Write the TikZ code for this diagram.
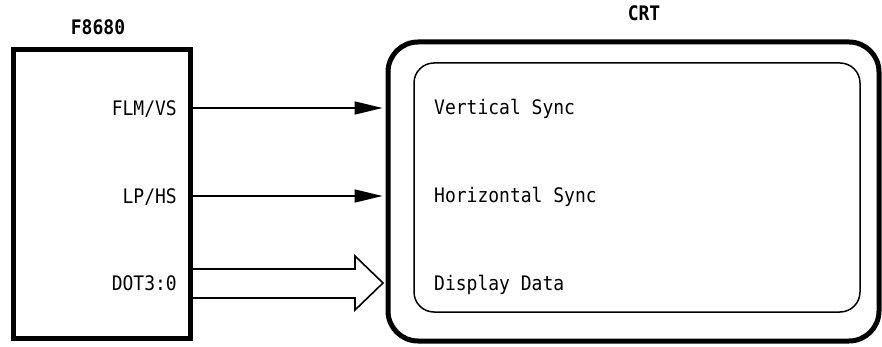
\documentclass[tikz,border=0pt]{standalone}
\usepackage{fontspec}
\setmonofont[FakeStretch=0.9]{DejaVu Sans Mono}
\usepackage{tikz}
\usetikzlibrary{arrows.meta}
\tikzstyle{box_chip} = [draw, line width=5pt, inner sep=0pt, minimum width=177pt, minimum height=288pt]
\tikzstyle{box_crt} = [draw, line width=5pt, rounded corners=30pt, inner sep=0pt, minimum width=491pt, minimum height=299pt]
\tikzstyle{box_screen} = [draw, line width=1.5pt, rounded corners=20pt, inner sep=0pt, minimum width=446pt, minimum height=249pt]
\tikzstyle{label_title} = [inner sep=0pt, font=\ttfamily\bfseries\fontsize{20}{22}\selectfont]
\tikzstyle{label_pin} = [anchor=base east, inner sep=0pt, font=\ttfamily\fontsize{20}{22}\selectfont]
\tikzstyle{label_screen} = [anchor=base west, inner sep=0pt, font=\ttfamily\fontsize{20}{22}\selectfont]
\tikzstyle{edge_signal} = [line width=1.6pt, -{Triangle[length=28pt,width=13pt]}]
\tikzstyle{edge_bus} = [line width=1.6pt, line join=miter]

\begin{document}
\begin{tikzpicture}[x=1pt,y=-1pt]
\useasboundingbox (0,0) rectangle (882,347);

\node (chip) at (101.5,194) [box_chip] {};
\node (crt) at (633.5,191.5) [box_crt] {};
\node (screen) at (637,187.5) [box_screen] {};

\node (chipname) at (98,27) [label_title] {F8680};
\node (crtname) at (644,13.5) [label_title] {CRT};

\node (flm) at (177,115.5) [label_pin] {FLM/VS};
\node (lp) at (177,203.5) [label_pin] {LP/HS};
\node (dot) at (177,290.5) [label_pin] {DOT3:0};

\node (vsync) at (434,115) [label_screen] {Vertical Sync};
\node (hsync) at (434,203) [label_screen] {Horizontal Sync};
\node (ddata) at (434,290) [label_screen] {Display Data};

\coordinate (vs_line) at (0,108);
\coordinate (hs_line) at (0,196);
\coordinate (bus_tip) at (383,283);

\draw[edge_signal] (chip.east |- vs_line) -- ([xshift=-3pt]crt.west |- vs_line);
\draw[edge_signal] (chip.east |- hs_line) -- ([xshift=-3pt]crt.west |- hs_line);
\draw[edge_bus] (chip.east |- 0,269) -- (355,269) -- (355,256) -- (bus_tip) -- (355,310) -- (355,298) -- (chip.east |- 0,298);
\end{tikzpicture}
\end{document}
